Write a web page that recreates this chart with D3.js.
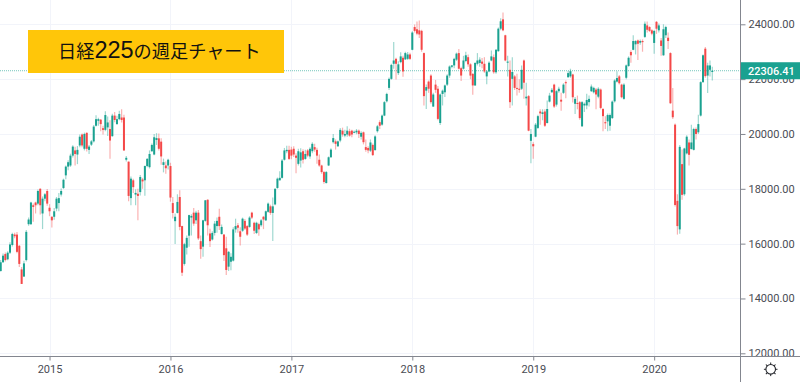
<!DOCTYPE html>
<html>
<head>
<meta charset="utf-8">
<script src="https://d3js.org/d3.v7.min.js"></script>
<style>
  html, body { margin: 0; padding: 0; background: #fff; }
  svg { display: block; }
  text { font-family: Roboto, sans-serif; }
</style>
</head>
<body>
<svg id="canvas" width="800" height="382"></svg>
<script>
// weekly bars, oldest first (11 Aug 2014 onwards)
const opens = [
  15000,15320,15620,15430,15670,15950,16330,16330,15920,15060,
  14800,15400,16710,16710,17400,17500,17460,18000,17100,17640,
  17920,17310,16980,16980,17280,17480,17790,18030,18490,18810,
  18850,19210,19400,19250,19580,19980,19460,20040,19420,19610,
  19730,20300,20480,20520,20210,20150,20240,20180,19920,20670,
  20360,20540,20600,20600,19060,18990,17660,18310,17790,17820,
  17880,18340,18310,18830,18790,19370,19250,19780,19840,19720,
  18870,18850,18850,18830,17480,16820,17120,17700,16640,15260,
  15850,16290,16950,17130,16850,17130,16090,15890,16830,17600,
  16370,16150,16390,16640,16980,16350,16330,15830,15160,15340,
  15380,16520,16670,16450,16470,16830,16640,16610,17130,16760,
  16390,16710,16670,16980,16850,17160,17360,17120,17430,18030,
  18310,18400,19060,19370,19420,19430,19460,19210,18910,19030,
  19370,19090,19400,19180,19370,19520,19420,19060,18850,18610,
  18210,18850,19150,19700,19730,19550,19760,20120,19940,19980,
  20100,20120,20060,20060,20120,19900,20060,19520,19490,19390,
  19600,19410,20100,20430,20340,20670,21190,21680,22010,22560,
  22740,22220,22620,22780,22720,22740,22900,23070,23900,23820,
  23780,23760,22950,21580,21910,22130,21000,21800,21650,20400,
  21460,21520,21800,22130,22450,22500,22710,22950,22400,22380,
  22660,22800,22540,22190,21770,22560,22590,22640,22560,22100,
  22280,22680,22800,22250,23020,23840,24180,23600,22600,22340,
  22010,22100,21680,21650,21650,22680,21300,21380,19750,19630,
  19900,20220,20820,20730,20820,20400,21180,21520,21800,21070,
  21560,21250,21500,21890,22070,22100,22170,21100,21130,21160,
  20280,21040,21040,21160,21560,21520,21620,21360,21620,20910,
  20430,20460,20300,20580,21190,21910,22100,21800,21280,22050,
  22480,22990,23070,23270,23410,23330,23390,23540,23960,23900,
  23780,23320,24090,23780,23410,22870,23600,23510,22950,20850,
  20340,17560,16520,18900,17800,19290,19690,19450,19420,20180,
  20060,20670,21890,23110,22130,22340,22260
];
const highs = [
  15400,15640,15680,15720,16050,16400,16400,16420,15950,15150,
  15380,16500,16950,17530,17460,17530,17970,18020,17720,17850,
  17990,17440,17000,17300,17700,17850,18010,18370,18850,19040,
  19280,19590,19530,19560,19980,20020,20050,20060,19600,19780,
  20330,20680,20590,20550,20300,20830,20640,20500,20740,20800,
  20660,20850,20900,20700,19200,19000,18450,18370,17980,18000,
  18500,18400,18850,19120,19400,19650,20000,20030,20020,19840,
  19100,19000,19100,18950,17700,17100,17800,17950,16650,16030,
  16300,17050,17070,17300,17200,17230,16300,16870,17590,17620,
  16540,16450,16830,16950,17270,16700,16350,16250,15730,15650,
  16600,16910,16750,16600,16950,16900,16680,17000,17160,16800,
  16800,16760,16900,17010,17210,17500,17420,17680,18020,18410,
  18640,19090,19490,19570,19570,19530,19550,19300,19460,19480,
  19440,19420,19450,19520,19700,19640,19500,19250,18880,18650,
  18650,19180,19480,20000,19800,19760,20220,20230,20150,20280,
  20190,20150,20130,20180,20160,20100,20090,19800,19550,19800,
  19650,19950,20330,20500,20710,21200,21500,22060,22560,23350,
  22780,22650,22980,22850,23000,22990,22960,23750,23990,24100,
  24140,23800,22970,21800,21950,22180,21500,21970,21750,21480,
  21620,21800,22180,22500,22520,22780,22970,23100,22450,22850,
  23000,22900,22580,22220,22620,22950,22800,22770,22800,22320,
  22650,23040,22900,23100,23880,24220,24430,23620,22850,22680,
  22800,22150,22200,22000,22500,22720,21870,21420,20180,19700,
  20400,20700,20900,20900,20900,21220,21500,21680,21830,21600,
  21720,21500,21850,21950,22300,22380,22200,21350,21400,21200,
  21200,21150,21470,21400,21800,21720,21680,21700,21660,20950,
  20650,20750,20750,21220,22000,22290,22150,21830,21850,22530,
  22830,23050,23600,23420,23450,23450,23450,24100,24100,23930,
  23820,23780,24120,24030,23500,24000,23950,23700,22980,21680,
  20380,17800,19600,19430,19500,19950,19800,20340,20230,20240,
  20700,21920,22900,23170,22600,22680,22450
];
const lows = [
  14980,15300,15350,15390,15620,15900,16200,15650,15150,14530,
  14780,15350,16650,16680,16800,17100,17400,17060,16530,17550,
  17380,17000,16590,16870,17180,17180,17720,17990,18350,18680,
  18800,19140,18850,18900,19520,19520,19400,19360,19270,19560,
  19690,20270,20300,20100,19980,20100,19930,19100,19900,20430,
  20340,20500,20420,19380,19000,17550,17400,17850,17400,16850,
  17760,18000,17750,18790,18740,19350,19220,19600,19400,18880,
  18600,18550,18700,17530,16920,15990,17100,16490,14820,15200,
  15600,15890,16300,16650,16720,16130,15450,15520,16800,16300,
  15880,16110,16300,16400,16500,16330,15370,14860,15000,15030,
  15350,16400,16400,15930,16430,16500,16280,16580,16900,16350,
  16350,16290,16620,16530,16830,17130,17050,16100,17400,18000,
  18300,18380,19030,19300,19050,19080,19160,18570,18850,18780,
  18920,19060,19150,19100,19300,19350,18910,18800,18550,18180,
  18190,18830,19130,19650,19430,19530,19700,19900,19880,19900,
  19900,19880,20030,19990,19850,19800,19620,19350,19300,19340,
  19200,19400,20050,20180,20300,20650,21150,21600,21980,22380,
  21990,22150,22580,22090,22700,22700,22700,23050,23700,23600,
  23500,23000,21040,20910,21500,21100,20980,21500,20500,20330,
  21040,21350,21750,22050,22400,22400,22660,22350,21930,22350,
  22620,22450,22000,21430,21750,22500,22450,22400,22230,21810,
  22250,22650,22200,22200,23000,23780,23750,22650,22100,20950,
  21040,21600,21400,21500,21600,21280,21040,20100,18930,19100,
  19880,20180,20340,20500,20250,20380,21150,21500,20950,21000,
  21500,20850,21460,21300,22050,22050,21150,20730,20900,20520,
  20250,20800,20900,21000,21530,21480,20900,21300,20900,20100,
  20180,20100,20120,20550,21150,21880,21800,21300,21250,22000,
  22450,22600,23050,22900,22700,23250,23000,23500,23700,23720,
  23600,22930,23650,23700,22850,22850,23500,23100,21100,20550,
  17350,16330,16360,17600,17750,19250,18850,19430,19400,19800,
  20000,20640,21870,22050,21490,22100,21950
];
const closes = [
  15320,15560,15400,15670,15970,16350,16270,15700,15260,14530,
  15280,16430,16880,17500,17340,17400,17920,17400,17640,17800,
  17460,17180,16850,17180,17640,17660,17920,18330,18810,18970,
  19210,19540,19270,19420,19900,19580,20000,19460,19540,19730,
  20270,20540,20540,20360,20150,20690,20420,19760,20670,20510,
  20540,20730,20510,19400,19130,17740,18370,18060,17850,17740,
  18430,18270,18830,19090,19270,19600,19880,19850,19460,19180,
  18970,18750,19060,17680,17120,16980,17520,16610,14940,15980,
  16210,17040,17010,16730,17130,16190,15800,16850,17580,16670,
  16090,16390,16730,16830,16640,16610,15580,15040,15700,15520,
  16520,16640,16580,16250,16910,16550,16330,16950,16950,16470,
  16760,16520,16850,16880,17180,17460,17120,17360,18000,18370,
  18400,19030,19400,19420,19090,19210,19250,19130,19370,19330,
  19060,19270,19210,19460,19640,19430,19210,18850,18610,18250,
  18610,19150,19430,19850,19640,19730,20150,19980,20000,20120,
  19940,19980,20080,20120,20000,20040,19700,19420,19400,19690,
  19230,19910,20280,20300,20670,21160,21460,22010,22520,22680,
  22560,22540,22830,22280,22950,22900,22740,23700,23760,23660,
  23630,23070,21380,21710,21650,21160,21440,21610,20550,21440,
  21580,21770,22130,22460,22500,22740,22930,22380,22130,22680,
  22870,22540,22130,21770,22590,22680,22710,22560,22280,22280,
  22600,22830,22250,23070,23840,24110,23780,22680,22640,21160,
  22260,21680,21650,21610,22340,21870,21360,20120,20000,19550,
  20340,20650,20750,20790,20300,20910,21400,21610,21000,21560,
  21650,21180,21800,21850,22220,22290,21340,21280,21100,20580,
  21160,21100,21240,21280,21730,21680,21440,21650,20950,20650,
  20390,20690,20690,21180,21950,22040,21850,21340,21800,22500,
  22780,22870,23390,23390,23290,23390,23350,24020,23800,23760,
  23660,23760,23840,23960,23210,23820,23900,23390,21120,20610,
  17410,16640,19530,17780,19470,19900,19240,19690,20180,20000,
  20360,21890,22870,22110,22500,22500,22306.41
];

const priceTicks = [12000, 14000, 16000, 18000, 20000, 22000, 24000];
const yearTickBars = [21, 73, 125, 177, 229, 281];
const yearLabels = ["2015", "2016", "2017", "2018", "2019", "2020"];
const lastPrice = 22306.41;
const titleParts = ["日経", "225", "の週足チャート"];

const upColor = "#1aa190", downColor = "#f44848", gridColor = "#f2f4fa";
const axisColor = "#83868f", labelColor = "#4a4c54";
const paneRight = 740.5, paneBottom = 356.5;

const x = d3.scaleLinear().domain([0, opens.length - 1]).range([0.7, 712.3]);
const y = d3.scaleLinear().domain([12000, 24000]).range([353.3, 24.3]);

const svg = d3.select("#canvas");

// grid goes first, everything else sits on it
const grid = svg.append("g");
grid.selectAll("line.h").data(priceTicks).join("line")
  .attr("class", "h")
  .attr("x1", 0).attr("x2", paneRight)
  .attr("y1", d => Math.round(y(d)) + 0.5).attr("y2", d => Math.round(y(d)) + 0.5)
  .attr("stroke", gridColor);
grid.selectAll("line.v").data(yearTickBars).join("line")
  .attr("class", "v")
  .attr("x1", d => Math.round(x(d)) + 0.5).attr("x2", d => Math.round(x(d)) + 0.5)
  .attr("y1", 0).attr("y2", paneBottom)
  .attr("stroke", gridColor);

// last price line
svg.append("line")
  .attr("x1", 0).attr("x2", paneRight)
  .attr("y1", y(lastPrice)).attr("y2", y(lastPrice))
  .attr("stroke", upColor).attr("stroke-opacity", 0.6)
  .attr("stroke-dasharray", "1 1");

const barColor = i => (closes[i] >= opens[i] ? upColor : downColor);

const bars = svg.append("g").selectAll("g").data(d3.range(opens.length)).join("g");
bars.append("line")
  .attr("x1", i => x(i)).attr("x2", i => x(i))
  .attr("y1", i => y(highs[i])).attr("y2", i => y(lows[i]))
  .attr("stroke", barColor)
  .attr("stroke-width", 1.2)
  .attr("stroke-opacity", 0.42);
bars.append("rect")
  .attr("x", i => x(i) - 1)
  .attr("width", 2)
  .attr("y", i => y(Math.max(opens[i], closes[i])))
  .attr("height", i => Math.max(1, Math.abs(y(opens[i]) - y(closes[i]))))
  .attr("fill", barColor);

// title banner, the digits are set larger than the kana in the original
svg.append("rect")
  .attr("x", 28).attr("y", 30).attr("width", 256).attr("height", 43)
  .attr("fill", "#ffc609");
const title = svg.append("text")
  .attr("x", 58).attr("y", 57.5)
  .attr("fill", "#111")
  .style("font-family", "'Noto Sans CJK JP'")
  .style("font-size", "18.2px");
title.selectAll("tspan").data(titleParts).join("tspan")
  .style("font-family", (d, i) => (i === 1 ? "'Liberation Sans'" : "'Noto Sans CJK JP'"))
  .style("font-size", (d, i) => (i === 1 ? "23.5px" : "18.2px"))
  .text(d => d);

// price scale
svg.append("rect").attr("x", paneRight).attr("y", 0).attr("width", 60).attr("height", 382).attr("fill", "#fff");
const yAxis = svg.append("g")
  .attr("transform", `translate(${paneRight},0)`)
  .call(d3.axisRight(y).tickValues(priceTicks).tickSize(5).tickPadding(3).tickFormat(d3.format(".2f")));
yAxis.select(".domain").remove();
yAxis.selectAll("line").attr("stroke", axisColor);
yAxis.selectAll("text").attr("fill", labelColor).style("font-size", "11px").style("font-family", "Roboto");

// time scale, covers the bottom of the 12000 label like the original
svg.append("rect").attr("x", 0).attr("y", paneBottom).attr("width", 800).attr("height", 26).attr("fill", "#fff");
const xAxis = svg.append("g")
  .attr("transform", `translate(0,${paneBottom})`)
  .call(d3.axisBottom(x).tickValues(yearTickBars).tickSize(4).tickPadding(5).tickFormat((d, i) => yearLabels[i]));
xAxis.select(".domain").remove();
xAxis.selectAll("line").attr("stroke", axisColor);
xAxis.selectAll("text").attr("fill", labelColor).style("font-size", "11px").style("font-family", "Roboto");

svg.append("line").attr("x1", 0).attr("x2", 800).attr("y1", paneBottom).attr("y2", paneBottom).attr("stroke", axisColor);
svg.append("line").attr("x1", paneRight).attr("x2", paneRight).attr("y1", 0).attr("y2", 382).attr("stroke", axisColor);

// last price tag
svg.append("rect")
  .attr("x", paneRight + 0.5).attr("y", y(lastPrice) - 8.5).attr("width", 60).attr("height", 17)
  .attr("fill", upColor);
svg.append("text")
  .attr("x", 748).attr("y", y(lastPrice) + 4)
  .attr("fill", "#fff")
  .style("font-size", "11px").style("font-weight", 500)
  .text(d3.format(".2f")(lastPrice));

// settings icon
const icon = svg.append("g").attr("transform", "translate(770.7,369.3)").attr("stroke", "#23252b").attr("fill", "none");
icon.append("circle").attr("r", 4.8).attr("stroke-width", 1.1);
icon.selectAll("line").data(d3.range(8)).join("line")
  .attr("x1", 0).attr("x2", 0).attr("y1", -4.8).attr("y2", -6.8)
  .attr("transform", d => `rotate(${d * 45})`);
</script>
</body>
</html>
